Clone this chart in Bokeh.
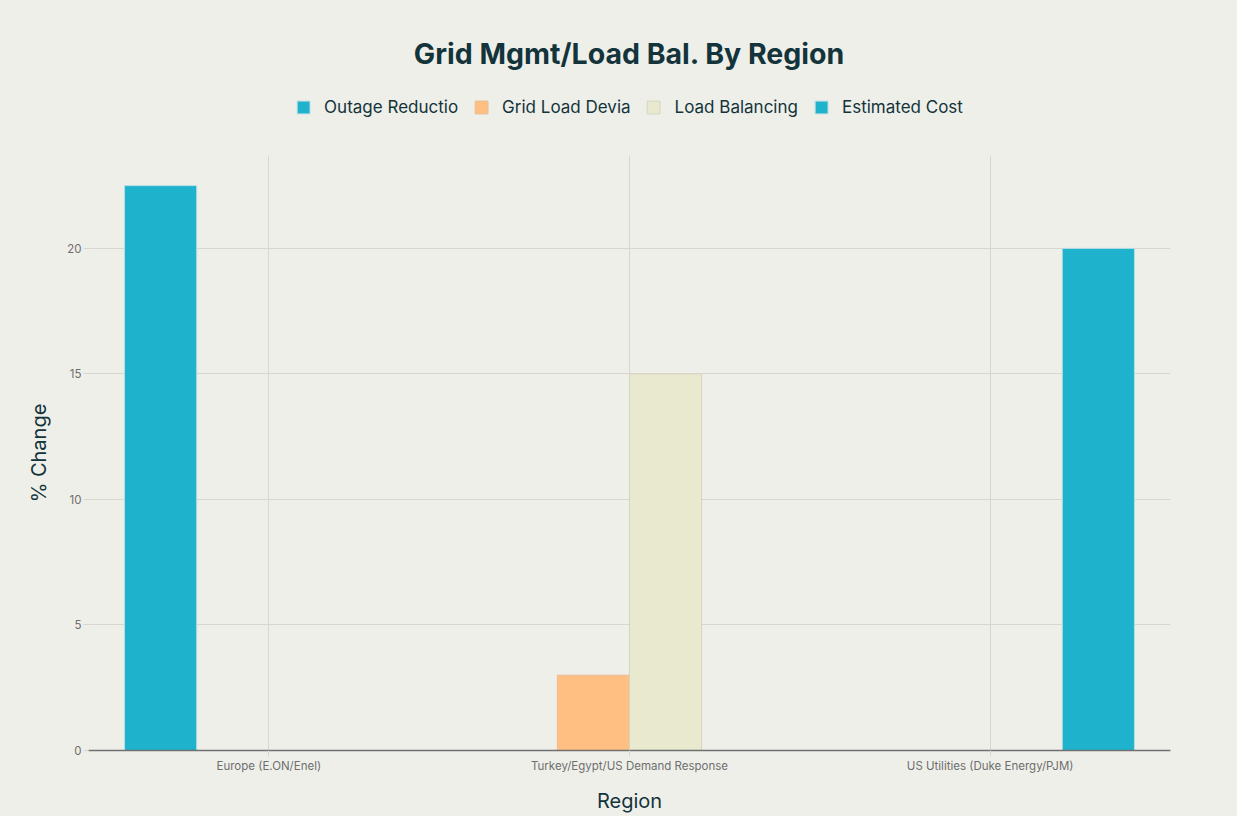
from bokeh.plotting import figure
from bokeh.models import ColumnDataSource, FactorRange, Range1d, Legend, LegendItem, FixedTicker
from bokeh.layouts import column
from bokeh.transform import dodge
from bokeh.embed import file_html
from bokeh.resources import INLINE
import numpy as np

regions = ["Europe (E.ON/Enel)", "Turkey/Egypt/US Demand Response", "US Utilities (Duke Energy/PJM)"]
series_names = ["Outage Reductio", "Grid Load Devia", "Load Balancing", "Estimated Cost"]
outage_reduction = [22.5, np.nan, np.nan]
grid_load_dev = [np.nan, 3.0, np.nan]
load_balancing = [np.nan, 15.0, np.nan]
estimated_cost = [np.nan, np.nan, 20.0]
y_ticks = [0, 5, 10, 15, 20]

colors = ["#1FB2CC", "#FFBE82", "#E9E9D0", "#1FB2CC"]
lines = ["#B6DCE3", "#E8BC90", "#D5D4C2", "#B6DCE3"]
BG = "#EFEFEA"
DARK = "#13343B"
FONT = "Inter"
W = 1237

# ---- header figure: title + legend (legend swatches only, no visible marks) ----
top = figure(width=W, height=120, x_range=Range1d(0, 1), y_range=Range1d(0, 1),
             x_axis_type=None, y_axis_type=None, output_backend="svg", toolbar_location=None,
             min_border_left=0, min_border_right=0, min_border_bottom=0, min_border_top=94)
top.background_fill_color = None
top.border_fill_color = BG
top.outline_line_color = None
top.grid.visible = False

swatch_src = ColumnDataSource(dict(x=[np.nan], t=[np.nan]))
dummy = []
for i in range(4):
    dummy.append(top.vbar(x="x", top="t", width=0.1, source=swatch_src,
                          fill_color=colors[i], line_color=lines[i]))

legend = Legend(items=[LegendItem(label=series_names[i], renderers=[dummy[i]]) for i in range(4)],
                orientation="horizontal", location="center")
legend.background_fill_alpha = 0
legend.border_line_color = None
legend.label_text_font = FONT
legend.label_text_font_size = "17px"
legend.label_text_color = DARK
legend.glyph_width = 16
legend.glyph_height = 16
legend.spacing = 15
legend.label_standoff = 13
legend.margin = 0
legend.padding = 0
top.add_layout(legend, "center")

top.title.text = "Grid Mgmt/Load Bal. By Region"
top.title.align = "center"
top.title.text_font = FONT
top.title.text_font_size = "28.5px"
top.title.text_font_style = "bold"
top.title.text_color = DARK
top.title.standoff = 48

# ---- main chart ----
source = ColumnDataSource(dict(region=regions, s0=outage_reduction, s1=grid_load_dev,
                               s2=load_balancing, s3=estimated_cost))

p = figure(x_range=FactorRange(*regions, range_padding=0), y_range=Range1d(0, 23.7),
           width=W, height=696, output_backend="svg", toolbar_location=None,
           min_border_left=88, min_border_right=67, min_border_bottom=66, min_border_top=35)

p.background_fill_color = None
p.border_fill_color = BG
p.outline_line_color = None

offsets = [-0.3, -0.1, 0.1, 0.3]
for i, off in enumerate(offsets):
    p.vbar(x=dodge("region", off, range=p.x_range), top="s%d" % i, bottom=0, width=0.2,
           source=source, fill_color=colors[i], line_color=lines[i], line_width=1)

p.xgrid.grid_line_color = "#D7D7D1"
p.ygrid.grid_line_color = "#D7D7D1"
p.yaxis.ticker = FixedTicker(ticks=y_ticks)

p.xaxis.axis_label = "Region"
p.yaxis.axis_label = "% Change"
for ax in [p.xaxis, p.yaxis]:
    ax.axis_label_text_font = FONT
    ax.axis_label_text_font_size = "20px"
    ax.axis_label_text_font_style = "normal"
    ax.axis_label_text_color = DARK
    ax.major_label_text_font = FONT
    ax.major_label_text_font_size = "11.5px"
    ax.major_label_text_color = "#6E6E6E"
    ax.major_tick_line_color = "#D7D7D1"
    ax.major_tick_in = 0
    ax.minor_tick_line_color = None

p.xaxis.axis_line_color = "#6F6F6F"
p.xaxis.axis_line_width = 1.5
p.xaxis.major_tick_out = 6
p.xaxis.major_label_standoff = 2
p.xaxis.axis_label_standoff = 13
p.yaxis.axis_line_color = None
p.yaxis.major_tick_out = 5
p.yaxis.major_label_standoff = 2
p.yaxis.axis_label_standoff = 13

layout = column(top, p, spacing=0, styles={"background-color": BG})
open("out.html", "w").write(file_html(layout, INLINE))
